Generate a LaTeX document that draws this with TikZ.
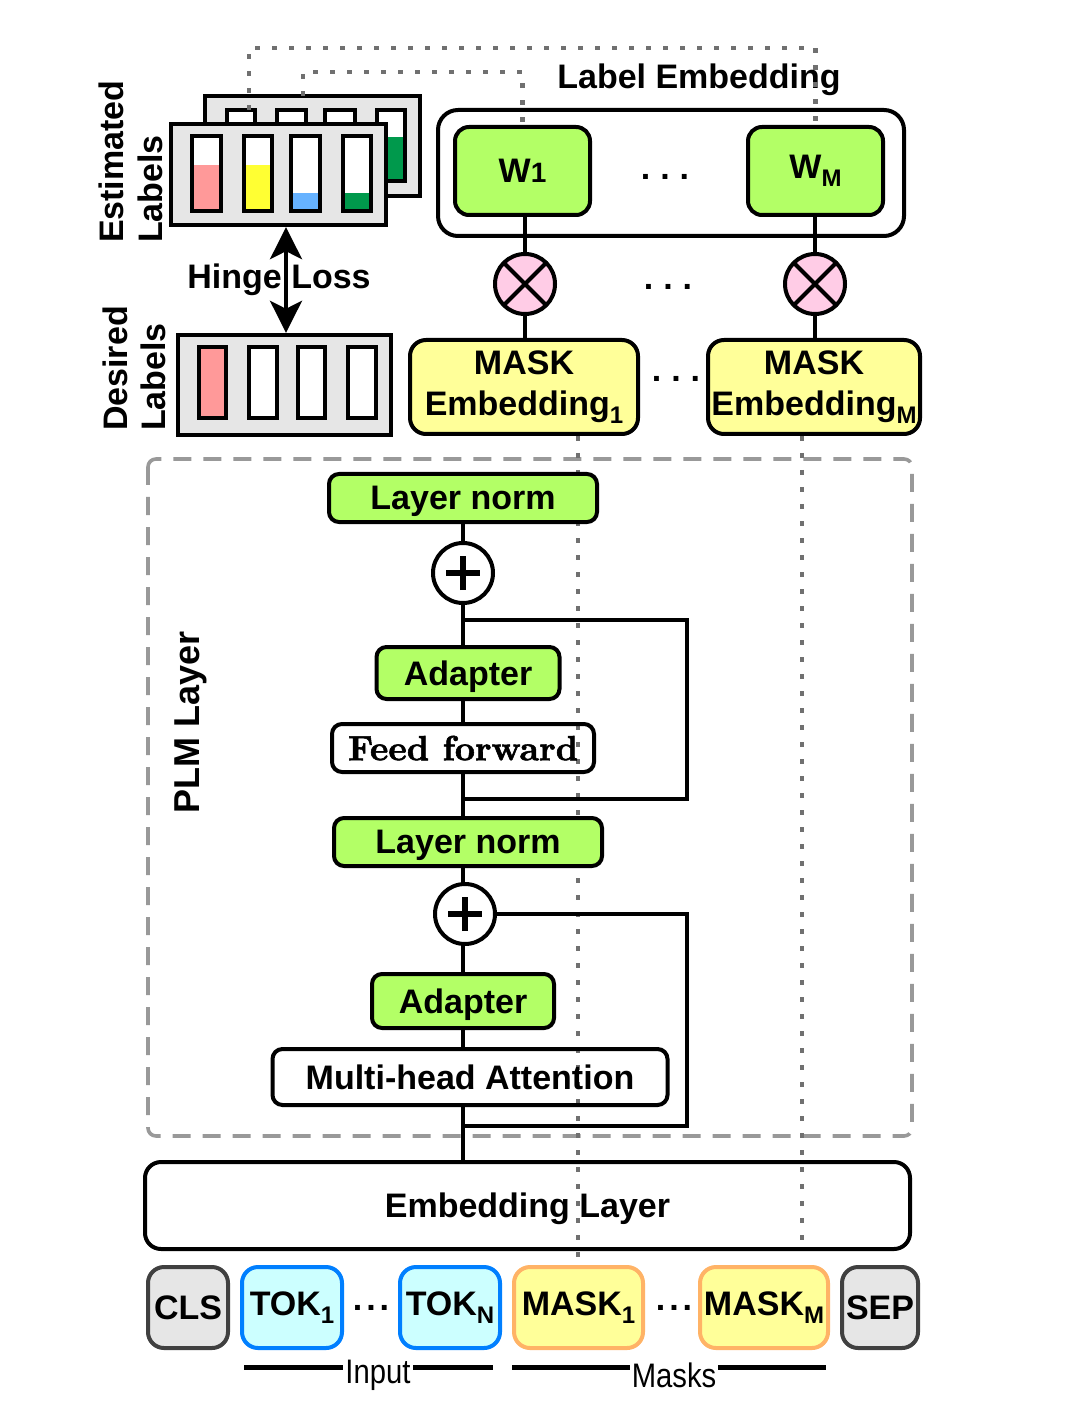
\documentclass[tikz,border=0pt]{standalone}
\usepackage{fontspec}
\setmainfont{Liberation Sans}
\newfontfamily\lmbold[FakeBold=1.6]{lmroman10-bold.otf}
\newfontfamily\narrowf[FakeStretch=0.86]{Liberation Sans}
\usetikzlibrary{arrows.meta}
\pgfdeclarelayer{background}
\pgfsetlayers{background,main}
\definecolor{lgreen}{HTML}{B3FF66}
\definecolor{lyellow}{HTML}{FFFF99}
\definecolor{lpink}{HTML}{FFCCE6}
\definecolor{lgray}{HTML}{E6E6E6}
\definecolor{dgray}{HTML}{404040}
\definecolor{tokfill}{HTML}{CCFFFF}
\definecolor{tokblue}{HTML}{007FFF}
\definecolor{maskorange}{HTML}{FFB366}
\definecolor{barpink}{HTML}{FF9999}
\definecolor{baryellow}{HTML}{FFFF33}
\definecolor{barblue}{HTML}{66B2FF}
\definecolor{bargreen}{HTML}{00994C}
\definecolor{dotgray}{HTML}{707070}
\definecolor{dashgray}{HTML}{999999}
\newcommand\subs[1]{\raisebox{-4pt}{\fontsize{12}{12}\selectfont #1}}
\newcommand\lblbar[6]{\fill[white] (#1,#3) rectangle (#2,#4); \fill[#6] (#1,#5) rectangle (#2,#4); \draw[line width=2.2pt] (#1,#3) rectangle (#2,#4);}
\begin{document}
\begin{tikzpicture}[x=0.5pt,y=-0.5pt,
  txt/.style={font=\bfseries\fontsize{17}{20.5}\selectfont},
  box/.style={draw, line width=2pt, rounded corners=5pt, inner sep=0pt, align=center, txt},
  lowtxt/.style={text depth=0pt},
  gbox/.style={box, fill=lgreen},
  ybox/.style={box, fill=lyellow, rounded corners=8pt},
  tokbase/.style={box, rounded corners=8pt, minimum height=40.5pt},
  tokg/.style={tokbase, fill=lgray, draw=dgray},
  tokb/.style={tokbase, fill=tokfill, draw=tokblue},
  toky/.style={tokbase, fill=lyellow, draw=maskorange},
  lblbox/.style={draw, line width=2.2pt, fill=lgray, inner sep=0pt},
  conn/.style={line width=2pt},
  dots/.style={draw=dotgray, line width=2.4pt, dash pattern=on 2.4pt off 6.1pt},
  plm/.style={draw=dashgray, line width=1.8pt, dash pattern=on 9pt off 6pt, rounded corners=4pt},
  circ/.style={circle, draw, line width=2pt, minimum size=30pt, inner sep=0pt},
  plus/.style={circ, fill=white, path picture={\draw[line width=3pt] ([xshift=-8.5pt]path picture bounding box.center) -- ([xshift=8.5pt]path picture bounding box.center) ([yshift=-8.5pt]path picture bounding box.center) -- ([yshift=8.5pt]path picture bounding box.center);}},
  otimes/.style={circ, fill=lpink, path picture={\draw[line width=2pt] (path picture bounding box.north west) -- (path picture bounding box.south east) (path picture bounding box.north east) -- (path picture bounding box.south west);}},
  dotstxt/.style={txt, inner sep=0pt}
]
\useasboundingbox (0,0) rectangle (1078,1416);

% ---------- dotted guide coordinates ----------
\coordinate (dA) at (578,0);
\coordinate (dB) at (802,0);
\coordinate (tA1) at (249,110);
\coordinate (tA2) at (249,48);
\coordinate (tB1) at (303,96);
\coordinate (tB2) at (303,72);

% ---------- PLM layer label ----------
\node[font=\bfseries\fontsize{18}{21}\selectfont, rotate=90] (plmlab) at (191,722) {PLM Layer};

% ---------- top: label embedding ----------
\node[box, minimum width=233pt, minimum height=63pt, rounded corners=10pt] (lebox) at (671,173) {};
\node[gbox, minimum width=67.5pt, minimum height=44pt, rounded corners=7pt] (w1) at (522.5,171) {W{\fontsize{14}{14}\selectfont 1}};
\node[gbox, minimum width=67.5pt, minimum height=44pt, rounded corners=7pt] (wm) at (815.5,171) {W\subs{M}};
\node[txt, anchor=base] (letxt) at (699,89) {Label Embedding};
\node[dotstxt] (dw) at (665,177) {.\kern5pt.\kern5pt.};
\node[otimes] (o1) at (525,284) {};
\node[otimes] (om) at (815,284) {};
\node[dotstxt] (do) at (668,287) {.\kern5pt.\kern5pt.};
\node[ybox, minimum width=114pt, minimum height=47pt] (me1) at (524,387) {MASK\\Embedding\subs{1}};
\node[ybox, minimum width=106pt, minimum height=47pt] (mem) at (814,387) {MASK\\Embedding\subs{M}};
\node[dotstxt] (dm) at (676,379) {.\kern5pt.\kern5pt.};
\draw[conn] (w1.south -| o1) -- (o1.north);
\draw[conn] (o1.south) -- (me1.north -| o1);
\draw[conn] (wm.south -| om) -- (om.north);
\draw[conn] (om.south) -- (mem.north -| om);

% ---------- estimated / desired labels ----------
\node[lblbox, minimum width=107.5pt, minimum height=50pt] (estback) at (312.5,146) {};
\lblbar{227}{255}{110}{181}{181}{white}
\lblbar{277}{306}{110}{181}{181}{white}
\lblbar{325}{355}{110}{181}{181}{white}
\lblbar{377}{405}{110}{181}{137}{bargreen}
\node[lblbox, minimum width=107.5pt, minimum height=50.5pt] (estfront) at (278.5,174.5) {};
\lblbar{192}{221}{136}{211}{165}{barpink}
\lblbar{244}{272}{136}{211}{165}{baryellow}
\lblbar{291}{320}{136}{211}{193}{barblue}
\lblbar{343}{371}{136}{211}{193}{bargreen}
\node[lblbox, minimum width=106.5pt, minimum height=50pt] (desired) at (284.5,385) {};
\lblbar{199}{226}{347}{418}{347}{barpink}
\lblbar{249}{277}{347}{418}{418}{white}
\lblbar{298}{325}{347}{418}{418}{white}
\lblbar{348}{376}{347}{418}{418}{white}
\coordinate (hx) at (286,0);
\draw[line width=2pt, {Stealth[length=16pt,width=16pt,inset=4pt]}-{Stealth[length=16pt,width=16pt,inset=4pt]}] (estfront.south -| hx) -- (desired.north -| hx);
\node[txt] (hinge) at (279,280) {Hinge Loss};
\node[txt, rotate=90, anchor=west] (estl1) at (111,250) {Estimated};
\node[txt, rotate=90, anchor=west] (estl2) at (150,250) {Labels};
\node[txt, rotate=90, anchor=west] (desl1) at (115,438) {Desired};
\node[txt, rotate=90, anchor=west] (desl2) at (153,438) {Labels};

% ---------- top dotted links ----------
\draw[dots] (tA1) -- (tA2) -| (wm.north);
\draw[dots] (tB1) -- (tB2) -| (w1.north);

% ---------- PLM layer stack ----------
\node[gbox, lowtxt, minimum width=134pt, minimum height=24pt] (ln1) at (463,498) {Layer norm};
\node[plus] (p1) at (463,573) {};
\node[gbox, lowtxt, minimum width=91.5pt, minimum height=26pt] (ad1) at (468,673) {Adapter};
\node[box, lowtxt, minimum width=131pt, minimum height=24pt, font=\lmbold\fontsize{17.5}{20}\selectfont] (ff) at (463,748) {Feed forward};
\node[gbox, lowtxt, minimum width=134pt, minimum height=24pt] (ln2) at (468,842) {Layer norm};
\node[plus] (p2) at (465,914) {};
\node[gbox, lowtxt, minimum width=91pt, minimum height=27pt] (ad2) at (463,1001) {Adapter};
\node[box, lowtxt, minimum width=197.5pt, minimum height=28pt] (mha) at (470,1077) {Multi-head Attention};
\node[box, lowtxt, minimum width=382.5pt, minimum height=43.5pt, rounded corners=8pt] (emb) at (527.5,1205.5) {Embedding Layer};

\draw[conn] (emb.north -| p1) -- (mha.south -| p1);
\draw[conn] (mha.north -| p1) -- (ad2.south -| p1);
\draw[conn] (ad2.north -| p1) -- (p2.south -| p1);
\draw[conn] (p2.north -| p1) -- (ln2.south -| p1);
\draw[conn] (ln2.north -| p1) -- (ff.south -| p1);
\draw[conn] (ff.north -| p1) -- (ad1.south -| p1);
\draw[conn] (ad1.north -| p1) -- (p1.south);
\draw[conn] (p1.north) -- (ln1.south -| p1);
\coordinate (r1t) at (687,620);
\coordinate (r1b) at (687,799);
\coordinate (r2b) at (687,1126);
\draw[conn] (p1 |- r1t) -- (r1t) -- (r1b) -- (p1 |- r1b);
\draw[conn] (p2.east) -| (r2b) -- (p1 |- r2b);

% ---------- tokens ----------
\node[tokg, minimum width=40pt] (cls) at (188,1307.5) {CLS};
\node[tokb, minimum width=50pt] (tok1) at (292,1307.5) {TOK\subs{1}};
\node[dotstxt] (dt1) at (371,1308) {.\kern2pt.\kern2pt.};
\node[tokb, minimum width=50pt] (tokn) at (450,1307.5) {TOK\subs{N}};
\node[toky, minimum width=64.5pt] (mask1) at (578.5,1307.5) {MASK\subs{1}};
\node[dotstxt] (dt2) at (674,1308) {.\kern2pt.\kern2pt.};
\node[toky, minimum width=64pt] (maskm) at (764,1307.5) {MASK\subs{M}};
\node[tokg, minimum width=38pt] (sep) at (880,1307.5) {SEP};

% ---------- background: PLM frame and vertical dotted links ----------
\begin{pgfonlayer}{background}
\draw[plm] (148,459) rectangle (912,1136);
\draw[dots] (me1.south -| dA) -- (mask1.north -| dA);
\draw[dots] (mem.south -| dB) -- (emb.south -| dB);
\end{pgfonlayer}

% ---------- brackets ----------
\coordinate (inl) at (244,1367);
\coordinate (inr) at (493,1367);
\coordinate (mkl) at (512,1367);
\coordinate (mkr) at (826,1367);
\draw[line width=2.5pt] (inl) -- (inr);
\draw[line width=2.5pt] (mkl) -- (mkr);
\node[fill=white, inner sep=1pt, font=\narrowf\fontsize{17}{20}\selectfont] (inlab) at (378,1375) {Input};
\node[fill=white, inner sep=1pt, font=\narrowf\fontsize{17}{20}\selectfont] (mklab) at (674,1375) {Masks};
\end{tikzpicture}
\end{document}
